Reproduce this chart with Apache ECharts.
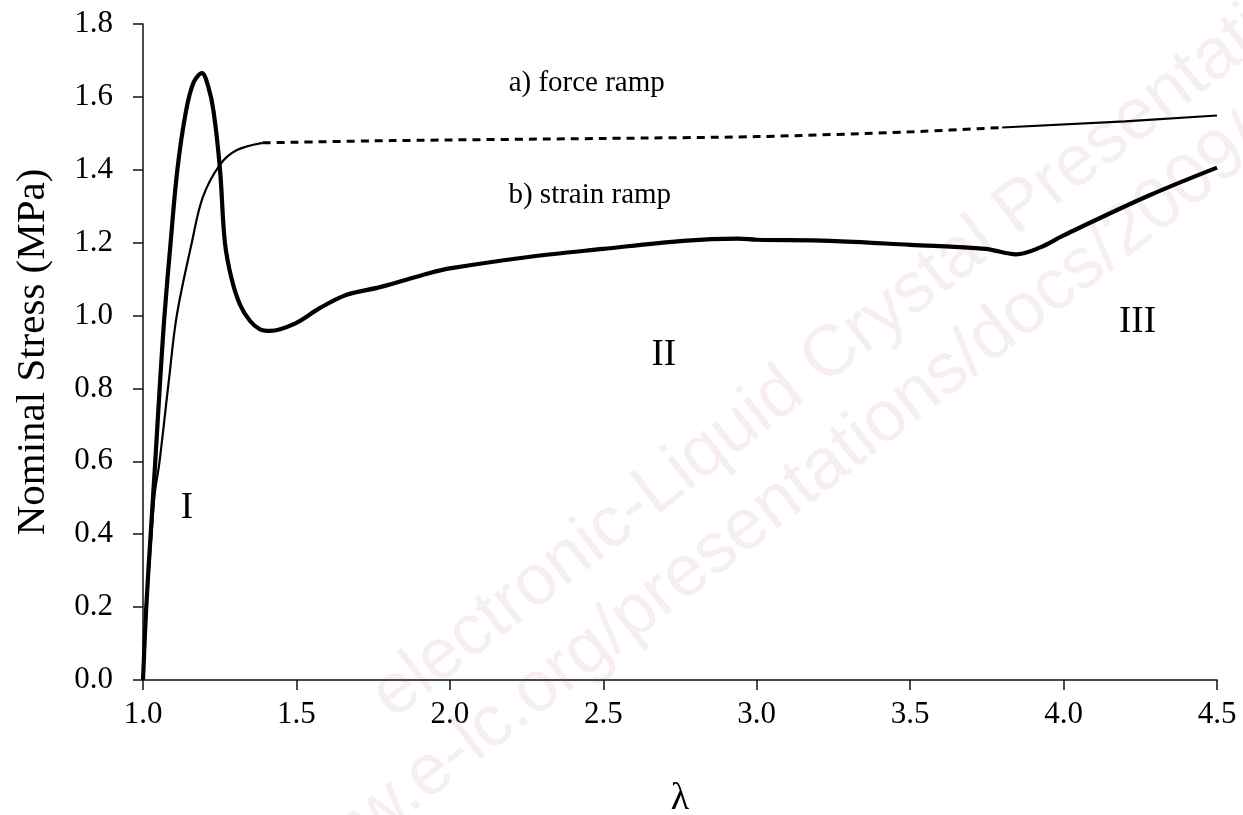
<!DOCTYPE html>
<html style="height: 100%">
<head>
    <meta charset="utf-8">
</head>
<body style="height: 100%; margin: 0; background: #fff">
    <div id="container" style="width: 1243px; height: 815px"></div>
    <script type="text/javascript" src="https://cdn.jsdelivr.net/npm/echarts@6/dist/echarts.min.js"></script>
    <script type="text/javascript">
        // b) strain ramp (thick line)
        var strainX = [1.000, 1.010, 1.025, 1.040, 1.055, 1.070, 1.090, 1.112, 1.140, 1.165, 1.192, 1.212, 1.230, 1.251, 1.267,
            1.289, 1.316, 1.349, 1.380, 1.414, 1.500, 1.577, 1.664, 1.772, 1.935, 2.005, 2.250, 2.500, 2.760, 2.940,
            3.000, 3.240, 3.500, 3.745, 3.845, 3.924, 4.000, 4.280, 4.500];
        var strainY = [0.000, 0.190, 0.400, 0.600, 0.810, 1.000, 1.200, 1.400, 1.560, 1.640, 1.665, 1.630, 1.560, 1.400, 1.200,
            1.100, 1.030, 0.985, 0.963, 0.958, 0.980, 1.021, 1.057, 1.078, 1.117, 1.130, 1.160, 1.183, 1.205, 1.211,
            1.208, 1.205, 1.194, 1.183, 1.168, 1.187, 1.220, 1.330, 1.406];

        // a) force ramp (thin line, dashed in the middle)
        var forceX = [1.000, 1.011, 1.028, 1.038, 1.054, 1.084, 1.110, 1.159, 1.195, 1.250, 1.306, 1.390];
        var forceY = [0.000, 0.190, 0.400, 0.510, 0.600, 0.820, 1.000, 1.200, 1.325, 1.413, 1.454, 1.474];
        var forceDashX = [1.390, 1.810, 2.500, 3.000, 3.500, 3.800];
        var forceDashY = [1.474, 1.480, 1.486, 1.491, 1.504, 1.516];
        var forceEndX = [3.800, 4.200, 4.500];
        var forceEndY = [1.516, 1.533, 1.549];

        // text annotations, in data coordinates
        var noteText = ['a) force ramp', 'b) strain ramp', 'I', 'II', 'III'];
        var noteX = [2.446, 2.456, 1.143, 2.697, 4.241];
        var noteY = [1.638, 1.331, 0.472, 0.892, 0.982];
        var noteSize = [29, 29, 37, 37, 37];

        var xTicks = { min: 1.0, max: 4.5, step: 0.5 };
        var yTicks = { min: 0.0, max: 1.8, step: 0.2 };

        function pairs(xs, ys) {
            var out = [];
            for (var i = 0; i < xs.length; i++) out.push([xs[i], ys[i]]);
            return out;
        }

        var notes = [];
        for (var i = 0; i < noteText.length; i++) {
            notes.push({
                value: [noteX[i], noteY[i]],
                label: { formatter: noteText[i], fontSize: noteSize[i] }
            });
        }

        var serif = '"Liberation Serif", "Times New Roman", serif';
        var wmColor = 'rgba(200, 140, 140, 0.15)';
        var wmFont = '72px "Liberation Sans", Arial, sans-serif';

        var myChart = echarts.init(document.getElementById('container'));
        var option = {
            backgroundColor: '#fff',
            animation: false,
            textStyle: { fontFamily: serif, color: '#000' },
            grid: { left: 143, right: 26, top: 24, bottom: 135, outerBoundsMode: 'none', containLabel: false },
            graphic: [
                {
                    type: 'text', x: 403, y: 733, rotation: 0.66, z: -10,
                    style: {
                        text: 'electronic-Liquid Crystal Presentations',
                        font: wmFont, fill: wmColor, align: 'left', verticalAlign: 'bottom'
                    }
                },
                {
                    type: 'text', x: 300, y: 920, rotation: 0.66, z: -10,
                    style: {
                        text: 'www.e-lc.org/presentations/docs/2009/',
                        font: wmFont, fill: wmColor, align: 'left', verticalAlign: 'bottom'
                    }
                }
            ],
            xAxis: {
                type: 'value',
                min: xTicks.min, max: xTicks.max, interval: xTicks.step,
                name: 'λ', nameLocation: 'middle', nameGap: 100,
                nameTextStyle: { fontSize: 38, fontFamily: serif, color: '#000' },
                axisLine: { lineStyle: { color: '#111', width: 1.5 } },
                axisTick: { inside: false, length: 10, lineStyle: { color: '#111', width: 1.5 } },
                axisLabel: {
                    margin: 19, fontSize: 31, color: '#000', fontFamily: serif,
                    formatter: function (v) { return v.toFixed(1); }
                },
                splitLine: { show: false }
            },
            yAxis: {
                type: 'value',
                min: yTicks.min, max: yTicks.max, interval: yTicks.step,
                name: 'Nominal Stress (MPa)', nameLocation: 'middle', nameGap: 89,
                nameTextStyle: { fontSize: 41, fontFamily: serif, color: '#000' },
                axisLine: { show: true, lineStyle: { color: '#111', width: 1.5 } },
                axisTick: { show: true, inside: false, length: 10, lineStyle: { color: '#111', width: 1.5 } },
                axisLabel: {
                    margin: 30, fontSize: 31, color: '#000', fontFamily: serif,
                    formatter: function (v) { return v.toFixed(1); }
                },
                splitLine: { show: false }
            },
            series: [
                {
                    name: 'a) force ramp', type: 'line', smooth: 0.35, symbol: 'none',
                    data: pairs(forceX, forceY),
                    lineStyle: { color: '#000', width: 2.2 }
                },
                {
                    name: 'a) force ramp dashed', type: 'line', smooth: 0.3, symbol: 'none',
                    data: pairs(forceDashX, forceDashY),
                    lineStyle: { color: '#000', width: 3, type: [8, 6] }
                },
                {
                    name: 'a) force ramp end', type: 'line', symbol: 'none',
                    data: pairs(forceEndX, forceEndY),
                    lineStyle: { color: '#000', width: 2.2 }
                },
                {
                    name: 'b) strain ramp', type: 'line', smooth: 0.35, symbol: 'none',
                    data: pairs(strainX, strainY),
                    lineStyle: { color: '#000', width: 4.2 }
                },
                {
                    name: 'notes', type: 'scatter', symbolSize: 0, silent: true,
                    itemStyle: { opacity: 1 },
                    data: notes,
                    label: {
                        show: true, position: 'inside', color: '#000', opacity: 1, fontFamily: serif
                    }
                }
            ]
        };
        myChart.setOption(option);
    </script>
</body>
</html>
